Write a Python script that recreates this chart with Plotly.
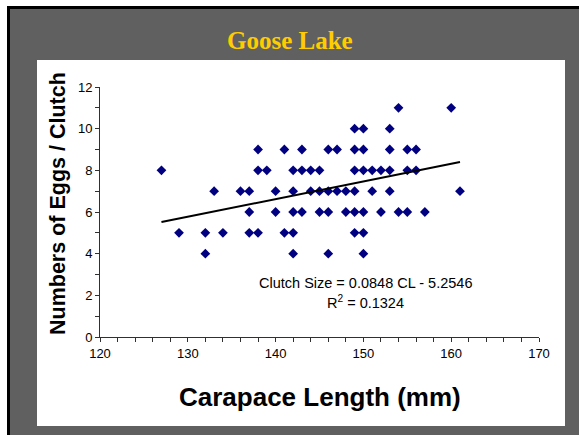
import plotly.graph_objects as go

# Carapace length (mm) and eggs per clutch
cl_11 = [154, 160]
cl_10 = [149, 150, 153]
cl_9 = [138, 141, 143, 146, 147, 149, 150, 153, 155, 156]
cl_8 = [127, 138, 139, 142, 143, 144, 145, 149, 150, 151, 152, 153, 155, 156]
cl_7 = [133, 136, 137, 140, 142, 144, 145, 146, 147, 148, 149, 151, 153, 161]
cl_6 = [137, 140, 142, 143, 145, 146, 148, 149, 150, 152, 154, 155, 157]
cl_5 = [129, 132, 134, 137, 138, 141, 142, 149, 150]
cl_4 = [132, 142, 146, 150]

rows = {11: cl_11, 10: cl_10, 9: cl_9, 8: cl_8, 7: cl_7, 6: cl_6, 5: cl_5, 4: cl_4}
carapace = []
eggs = []
for n, xs in rows.items():
    carapace += xs
    eggs += [n] * len(xs)

slope = 0.0848
intercept = -5.2546
r2 = 0.1324
x_fit = [min(carapace), max(carapace)]
y_fit = [slope * v + intercept for v in x_fit]

W, H = 579, 435
L, R, T, B = 100, 40, 87, 98
PW, PH = W - L - R, H - T - B


def px(x):
    return (x - L) / PW


def py(y):
    return (H - B - y) / PH


fig = go.Figure()
fig.add_trace(go.Scatter(x=carapace, y=eggs, mode="markers",
                         marker=dict(symbol="diamond", size=7.5, color="#000080"),
                         showlegend=False, hoverinfo="x+y"))
fig.add_trace(go.Scatter(x=x_fit, y=y_fit, mode="lines",
                         line=dict(color="black", width=2), showlegend=False))

shapes = [
    dict(type="rect", xref="paper", yref="paper", x0=px(0), x1=px(W + 5), y0=py(H + 5), y1=py(0),
         fillcolor="#606060", line_width=0, layer="below"),
    dict(type="rect", xref="paper", yref="paper", x0=px(0), x1=px(W + 5), y0=py(6), y1=py(0),
         fillcolor="white", line_width=0, layer="below"),
    dict(type="rect", xref="paper", yref="paper", x0=px(0), x1=px(7), y0=py(H + 5), y1=py(0),
         fillcolor="white", line_width=0, layer="below"),
    dict(type="rect", xref="paper", yref="paper", x0=px(7), x1=px(W + 5), y0=py(9), y1=py(6),
         fillcolor="black", line_width=0, layer="below"),
    dict(type="rect", xref="paper", yref="paper", x0=px(7), x1=px(10), y0=py(H + 5), y1=py(6),
         fillcolor="black", line_width=0, layer="below"),
    dict(type="rect", xref="paper", yref="paper", x0=px(37), x1=px(565), y0=py(426), y1=py(60),
         fillcolor="white", line_width=0, layer="below"),
]

ann_font = dict(family="Liberation Sans, Arial, sans-serif", size=14.5, color="black")
annotations = [
    dict(text="<b>Goose Lake</b>", xref="paper", yref="paper", x=px(290), y=py(40),
         xanchor="center", yanchor="middle", showarrow=False,
         font=dict(family="Liberation Serif, Times New Roman, serif", size=25, color="#FFCC00")),
    dict(text=f"Clutch Size = {slope} CL - {abs(intercept)}", xref="paper", yref="paper",
         x=px(365), y=py(283), xanchor="center", yanchor="middle", showarrow=False, font=ann_font),
    dict(text=f"R<sup>2</sup> = {r2}", xref="paper", yref="paper",
         x=px(365), y=py(302), xanchor="center", yanchor="middle", showarrow=False, font=ann_font),
    dict(text="<b>Numbers of Eggs / Clutch</b>", xref="paper", yref="paper",
         x=px(58), y=py(204), xanchor="center", yanchor="middle", textangle=-90,
         showarrow=False, font=dict(family="Liberation Sans, Arial, sans-serif", size=21.5,
                                    color="black")),
    dict(text="<b>Carapace Length (mm)</b>", xref="paper", yref="paper",
         x=px(320), y=py(397), xanchor="center", yanchor="middle",
         showarrow=False, font=dict(family="Liberation Sans, Arial, sans-serif", size=26,
                                    color="black")),
]

fig.update_layout(
    width=W, height=H,
    margin=dict(l=L, r=R, t=T, b=B, pad=0),
    paper_bgcolor="#606060", plot_bgcolor="white",
    font=dict(family="Liberation Sans, Arial, sans-serif", size=13, color="black"),
    shapes=shapes, annotations=annotations,
    xaxis=dict(range=[120, 170], dtick=10, tick0=120, showgrid=False, zeroline=False,
               showline=True, linecolor="#303030", linewidth=1,
               ticks="outside", ticklen=4, tickcolor="#303030",
               minor=dict(dtick=2, ticks="outside", ticklen=4, tickcolor="#303030"),
               tickfont=dict(size=13)),
    yaxis=dict(range=[0, 12], dtick=2, tick0=0, showgrid=False, zeroline=False,
               showline=True, linecolor="#303030", linewidth=1,
               ticks="outside", ticklen=4, tickcolor="#303030",
               minor=dict(dtick=1, ticks="outside", ticklen=4, tickcolor="#303030"),
               tickfont=dict(size=13)),
)

fig.write_html(
    "out.html", config={"displayModeBar": False},
    post_script=("document.body.style.margin='0';document.body.style.overflow='hidden';"
                 "document.body.style.background='#606060';"
                 "document.documentElement.style.background='#606060';"))
